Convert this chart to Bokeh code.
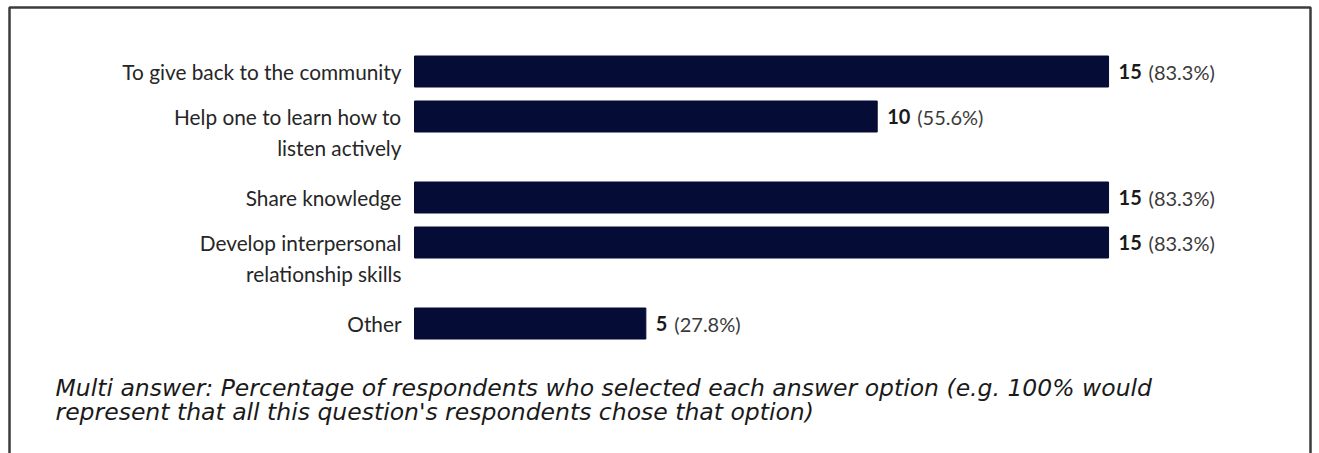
from bokeh.plotting import figure
from bokeh.models import Range1d, BoxAnnotation, ColumnDataSource
from bokeh.core.properties import value
from bokeh.embed import file_html
from bokeh.resources import INLINE

# ---- data ----
categories = ["To give back to the community",
              "Help one to learn how to\nlisten actively",
              "Share knowledge",
              "Develop interpersonal\nrelationship skills",
              "Other"]
counts = [15, 10, 15, 15, 5]
percents = ["83.3%", "55.6%", "83.3%", "83.3%", "27.8%"]
footnote = ["Multi answer: Percentage of respondents who selected each answer option (e.g. 100% would",
            "represent that all this question's respondents chose that option)"]

# ---- layout ----
W, H = 1319, 453
X0_PX = 414          # pixel of value 0
PX_PER_UNIT = 46.27  # pixels per respondent
def px_to_x(px):
    return (px - X0_PX) / PX_PER_UNIT

first_center = 71
row_pitch = 45
extra_line = 36
line_gap = 31
bar_h = 31

centers = []
y = first_center
for cat in categories:
    centers.append(y)
    y += row_pitch + extra_line * (len(cat.split("\n")) - 1)

p = figure(width=W, height=H, output_backend="svg", toolbar_location=None,
           x_range=Range1d(px_to_x(0), px_to_x(W)), y_range=Range1d(H, 0),
           min_border=0)
p.axis.visible = False
p.grid.visible = False
p.outline_line_color = None
p.background_fill_color = "white"
p.border_fill_color = "white"

bar_color = "#050c36"
src = ColumnDataSource(dict(y=centers, right=counts))
p.hbar(y="y", left=0, right="right", height=bar_h, source=src,
       fill_color=bar_color, line_color=bar_color)

# category labels
lab_x, lab_y, lab_t = [], [], []
for c, cat in zip(centers, categories):
    for k, line in enumerate(cat.split("\n")):
        lab_x.append(0)
        lab_y.append(c + k * line_gap)
        lab_t.append(line)
p.text(x=lab_x, y=lab_y, text=lab_t, x_offset=-13, text_align="right",
       text_baseline="middle", text_font=value("Lato"), text_font_size="20.8px",
       text_color="#262626")

# value labels
p.text(x=counts, y=centers, text=[str(n) for n in counts], x_offset=10,
       text_align="left", text_baseline="middle", text_font=value("Lato"),
       text_font_size="20px", text_font_style="bold", text_color="#1a1a1a")
for n, c, pc in zip(counts, centers, percents):
    p.text(x=[n], y=[c], text=["(" + pc + ")"], x_offset=10 + 11.5 * len(str(n)) + 7,
           text_align="left", text_baseline="middle", text_font=value("Lato"),
           text_font_size="20px", text_color="#3a3a3a")

# footnote
p.text(x=[px_to_x(55)] * 2, y=[387, 411], text=footnote, text_align="left",
       text_baseline="middle", text_font=value("DejaVu Sans"),
       text_font_size="23.5px", text_font_style="italic", text_color="#1a1a1a")

# frame border (open at bottom)
p.add_layout(BoxAnnotation(left=px_to_x(9), right=px_to_x(1310), top=7, bottom=H + 20,
                           fill_alpha=0, line_color="#3c3c3c", line_alpha=1.0,
                           line_width=2.5))

open("out.html", "w").write(file_html(p, INLINE))
